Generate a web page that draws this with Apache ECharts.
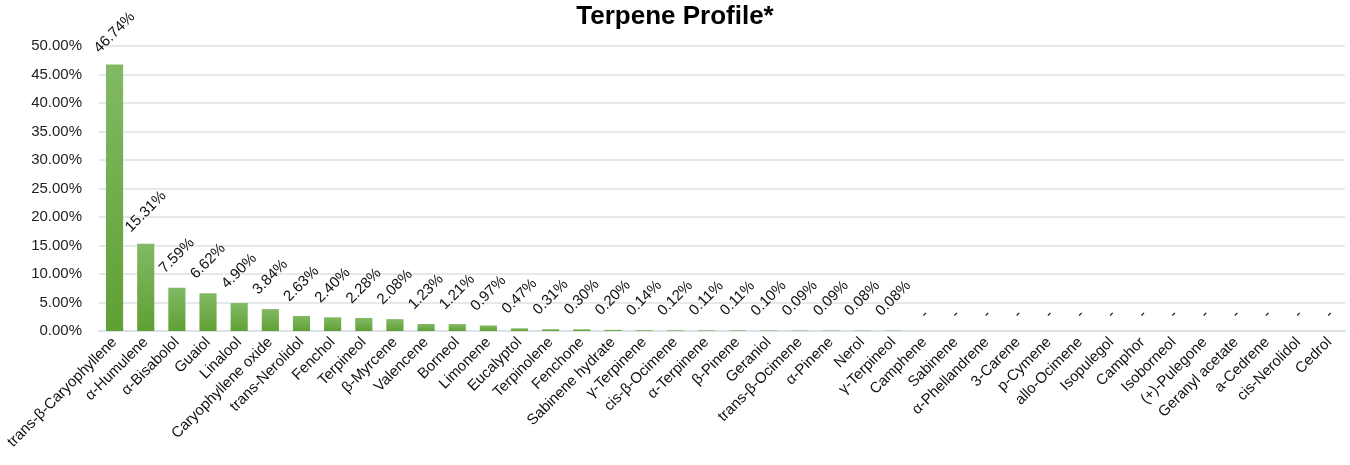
<!DOCTYPE html>
<html>
<head>
<meta charset="utf-8">
<script src="https://cdn.jsdelivr.net/npm/echarts@6/dist/echarts.min.js"></script>
<style>
html,body{margin:0;padding:0;background:#fff;}
#chart{width:1350px;height:465px;}
</style>
</head>
<body>
<div id="chart"></div>
<script>
const titleText = 'Terpene Profile*';
const categories = ['trans-β-Caryophyllene','α-Humulene','α-Bisabolol','Guaiol','Linalool','Caryophyllene oxide','trans-Nerolidol','Fenchol','Terpineol','β-Myrcene','Valencene','Borneol','Limonene','Eucalyptol','Terpinolene','Fenchone','Sabinene hydrate','γ-Terpinene','cis-β-Ocimene','α-Terpinene','β-Pinene','Geraniol','trans-β-Ocimene','α-Pinene','Nerol','γ-Terpineol','Camphene','Sabinene','α-Phellandrene','3-Carene','p-Cymene','allo-Ocimene','Isopulegol','Camphor','Isoborneol','(+)-Pulegone','Geranyl acetate','a-Cedrene','cis-Nerolidol','Cedrol'];
const values = [46.74,15.31,7.59,6.62,4.90,3.84,2.63,2.40,2.28,2.08,1.23,1.21,0.97,0.47,0.31,0.30,0.20,0.14,0.12,0.11,0.11,0.10,0.09,0.09,0.08,0.08,0,0,0,0,0,0,0,0,0,0,0,0,0,0];
const yMin = 0, yMax = 50, yStep = 5;

const FONT = 'Liberation Sans';
const chart = echarts.init(document.getElementById('chart'), null, {renderer:'canvas'});
const data = values.map(v => ({
  value: v,
  label: { distance: v > 0 ? 32 : 17 }
}));
chart.setOption({
  animation: false,
  backgroundColor: '#fff',
  title: {
    text: titleText, left: 'center', top: -1,
    textStyle: { fontFamily: FONT, fontSize: 26, fontWeight: 'bold', color: '#000' }
  },
  grid: { left: 99, right: 5, top: 46, bottom: 134, containLabel: false },
  xAxis: {
    type: 'category', data: categories,
    axisLine: { show: true, lineStyle: { color: '#dde2e8', width: 2 } },
    axisTick: { show: false },
    axisLabel: { interval: 0, rotate: 45, margin: 9, fontFamily: FONT, fontSize: 15, color: '#111' }
  },
  yAxis: {
    type: 'value', min: yMin, max: yMax, interval: yStep,
    axisLine: { show: false }, axisTick: { show: false },
    splitLine: { lineStyle: { color: '#dde2e8', width: 1.5 } },
    axisLabel: { margin: 17, fontFamily: FONT, fontSize: 15, color: '#222',
      formatter: v => v.toFixed(2) + '%' }
  },
  series: [{
    type: 'bar', data: data, barWidth: '55%',
    itemStyle: {
      color: new echarts.graphic.LinearGradient(0, 0, 0, 1, [
        { offset: 0, color: '#82b964' },
        { offset: 1, color: '#5fa034' }
      ])
    },
    label: {
      show: true, position: 'top', rotate: 45, align: 'center', verticalAlign: 'middle',
      fontFamily: FONT, fontSize: 15, color: '#111',
      formatter: p => p.value > 0 ? p.value.toFixed(2) + '%' : '-'
    }
  }]
});
</script>
</body>
</html>
